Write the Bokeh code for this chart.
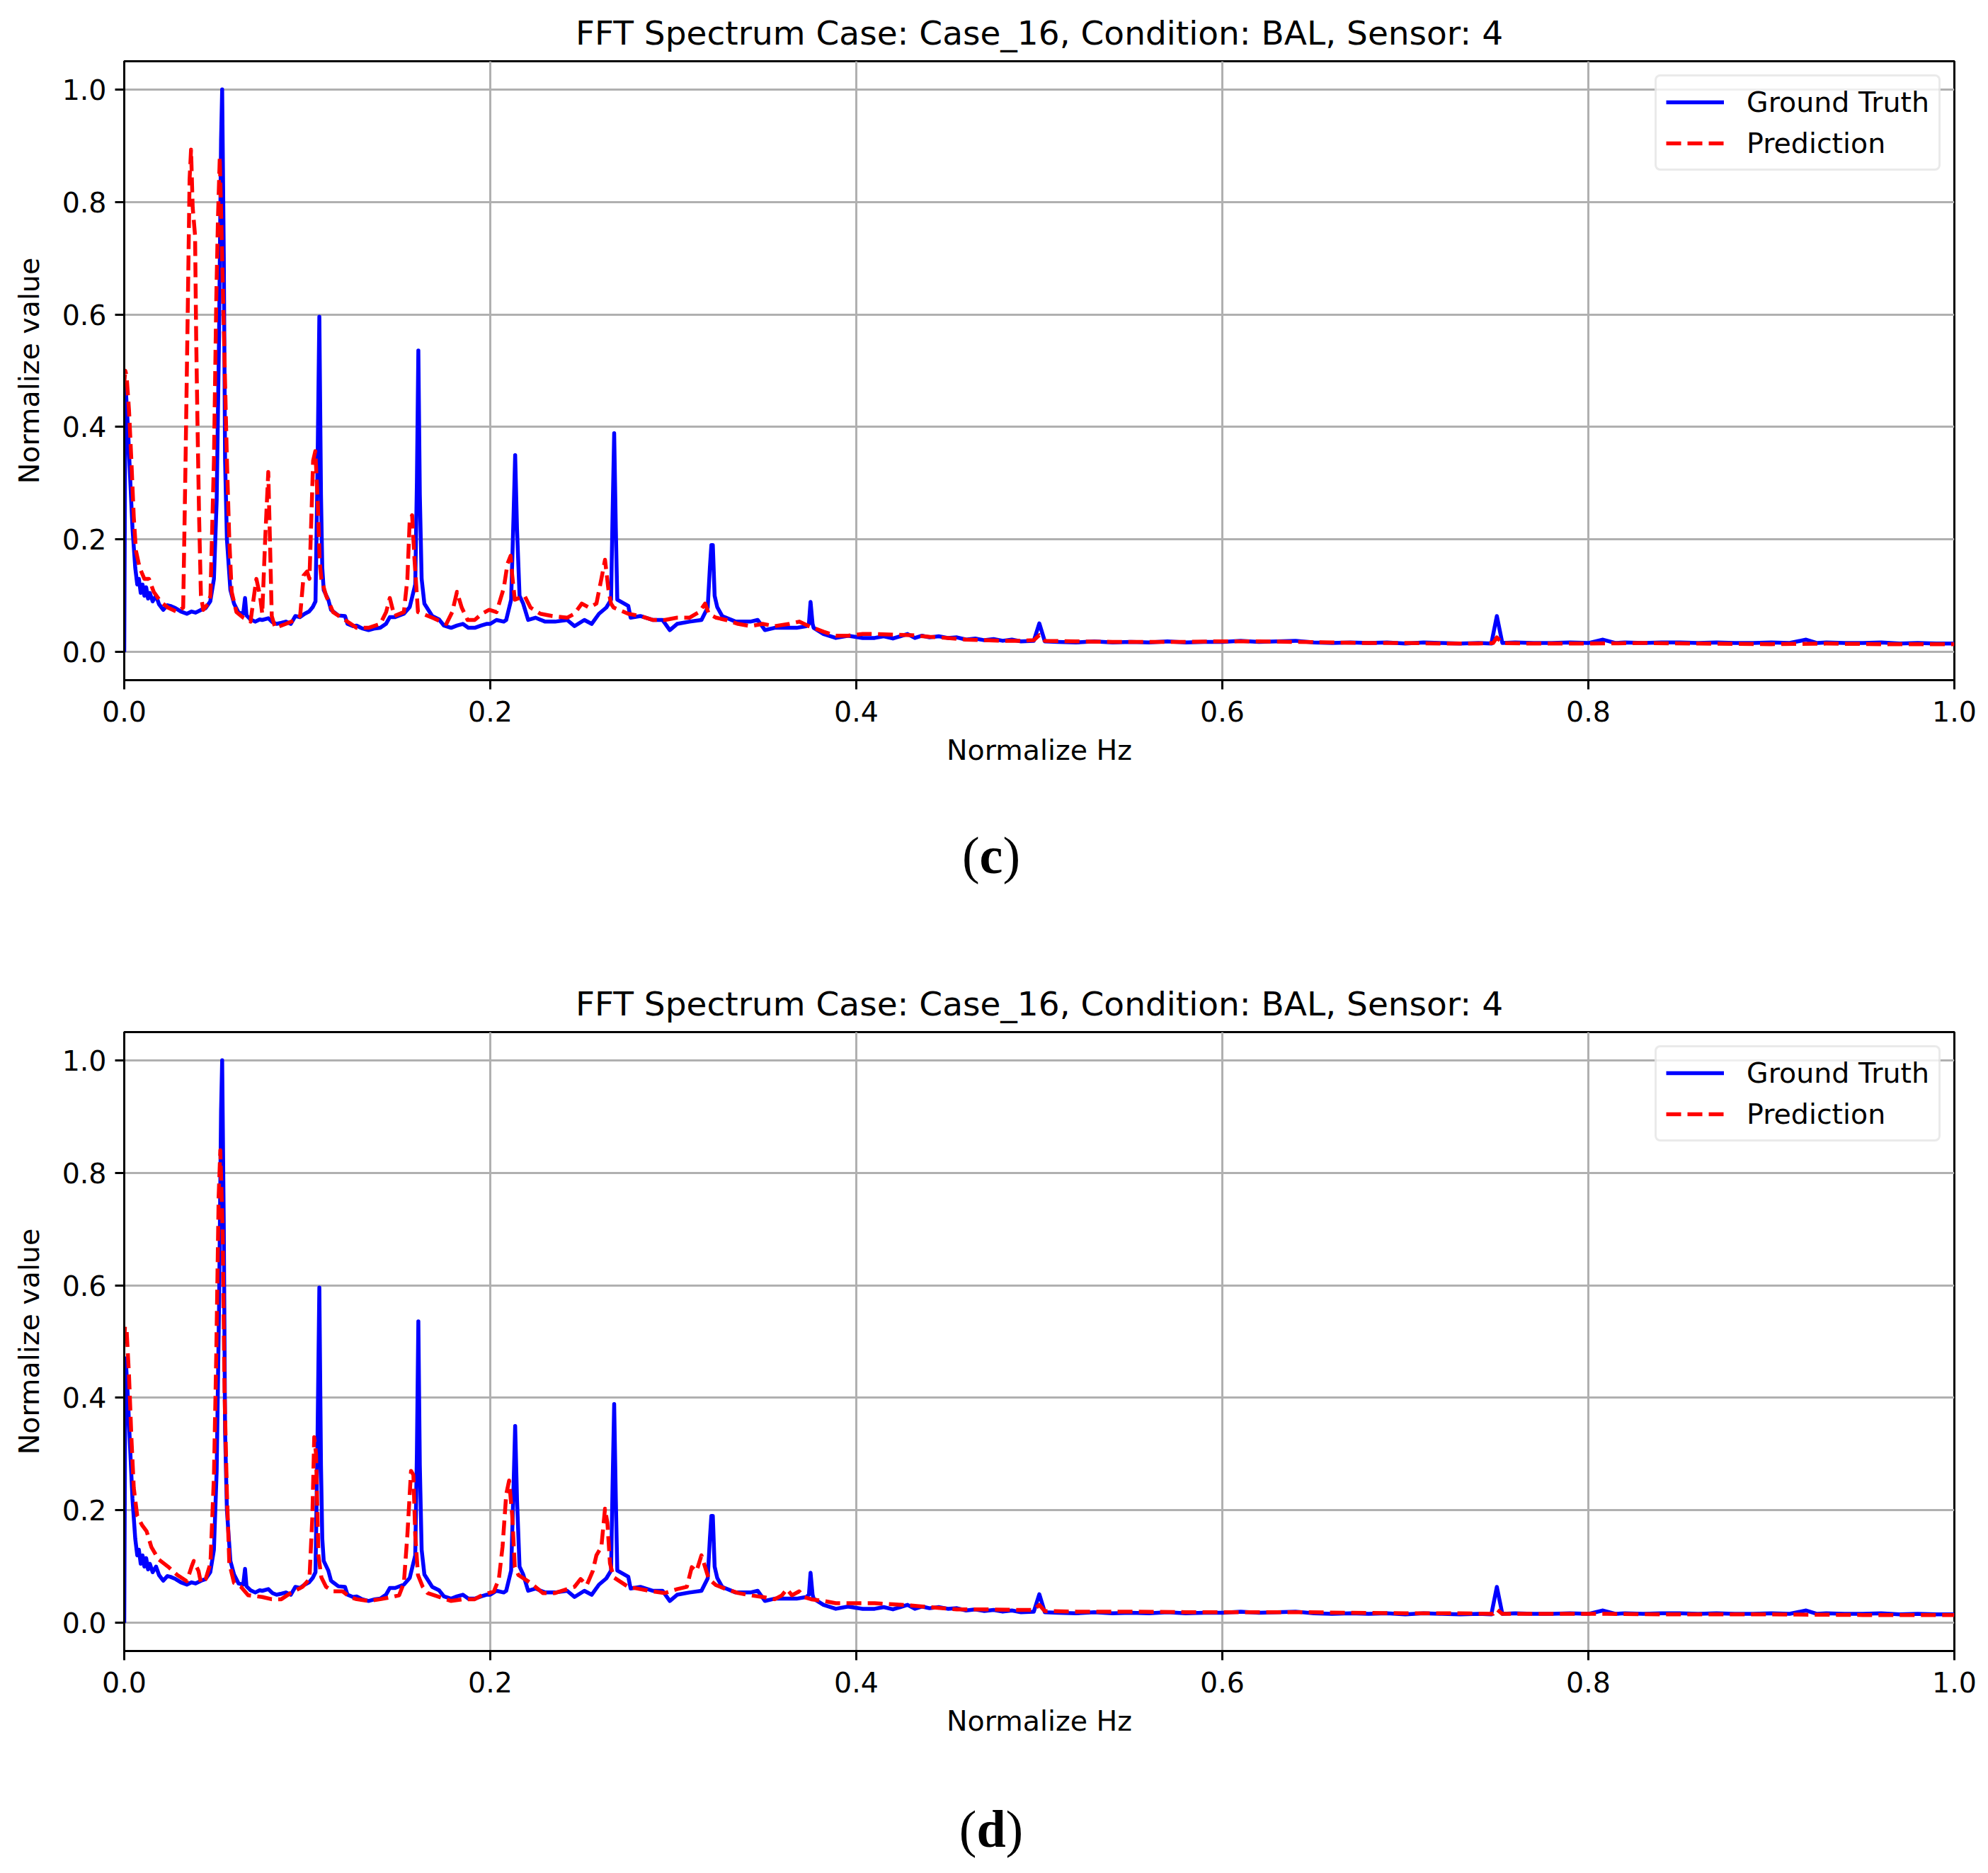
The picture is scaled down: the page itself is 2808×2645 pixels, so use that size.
from bokeh.plotting import figure
from bokeh.models import Range1d, FixedTicker, Legend, LegendItem, PrintfTickFormatter, Div
from bokeh.layouts import column
from bokeh.embed import file_html
from bokeh.resources import INLINE

# ---------------- data ----------------
title_text = "FFT Spectrum Case: Case_16, Condition: BAL, Sensor: 4"
x_label = "Normalize Hz"
y_label = "Normalize value"
x_ticks = [0.0, 0.2, 0.4, 0.6, 0.8, 1.0]
y_ticks = [0.0, 0.2, 0.4, 0.6, 0.8, 1.0]
series_names = ["Ground Truth", "Prediction"]
caption_letters = ["c", "d"]

# Ground truth spectrum (identical in both panels)
ground_truth = [
    (0.0000, 0.000), (0.0004, 0.300), (0.0008, 0.470), (0.0020, 0.400), (0.0035, 0.290),
    (0.0045, 0.220), (0.0060, 0.150), (0.0071, 0.120), (0.0080, 0.130), (0.0090, 0.105),
    (0.0100, 0.120), (0.0110, 0.100), (0.0120, 0.115), (0.0130, 0.095), (0.0140, 0.105),
    (0.0155, 0.090), (0.0174, 0.100), (0.0190, 0.085), (0.0213, 0.075), (0.0235, 0.083),
    (0.0251, 0.082), (0.0280, 0.078), (0.0310, 0.072), (0.0342, 0.068), (0.0368, 0.072),
    (0.0390, 0.070), (0.0420, 0.075), (0.0445, 0.078), (0.0470, 0.090), (0.0490, 0.130),
    (0.0505, 0.270), (0.0518, 0.560), (0.0529, 0.910), (0.0535, 1.000), (0.0544, 0.700),
    (0.0551, 0.340), (0.0561, 0.200), (0.0580, 0.110), (0.0600, 0.086), (0.0625, 0.070),
    (0.0650, 0.068), (0.0660, 0.096), (0.0668, 0.065), (0.0690, 0.058), (0.0716, 0.054),
    (0.0740, 0.058), (0.0754, 0.057), (0.0787, 0.060), (0.0810, 0.053), (0.0832, 0.050),
    (0.0860, 0.052), (0.0883, 0.054), (0.0910, 0.050), (0.0935, 0.064), (0.0960, 0.062),
    (0.0986, 0.068), (0.1010, 0.072), (0.1030, 0.080), (0.1045, 0.090), (0.1055, 0.300),
    (0.1066, 0.596), (0.1075, 0.280), (0.1082, 0.150), (0.1090, 0.110),
    (0.1115, 0.093), (0.1130, 0.075), (0.1141, 0.072), (0.1170, 0.065), (0.1206, 0.064),
    (0.1220, 0.050), (0.1250, 0.046), (0.1270, 0.047), (0.1300, 0.042), (0.1335, 0.039),
    (0.1370, 0.042), (0.1399, 0.043), (0.1430, 0.050), (0.1451, 0.062), (0.1480, 0.062),
    (0.1528, 0.068), (0.1560, 0.080), (0.1590, 0.120), (0.1599, 0.300), (0.1607, 0.536),
    (0.1615, 0.280), (0.1625, 0.130), (0.1640, 0.086), (0.1683, 0.064), (0.1720, 0.058),
    (0.1747, 0.047), (0.1786, 0.043), (0.1818, 0.047), (0.1850, 0.050), (0.1880, 0.043),
    (0.1915, 0.043), (0.1950, 0.047), (0.1979, 0.050), (0.2000, 0.050), (0.2034, 0.057),
    (0.2074, 0.054), (0.2087, 0.057), (0.2114, 0.093), (0.2127, 0.240), (0.2136, 0.350),
    (0.2146, 0.220), (0.2160, 0.100), (0.2180, 0.086), (0.2207, 0.057), (0.2247, 0.061),
    (0.2300, 0.054), (0.2354, 0.054), (0.2420, 0.057), (0.2460, 0.046), (0.2514, 0.057),
    (0.2554, 0.050), (0.2594, 0.068), (0.2634, 0.079), (0.2660, 0.093), (0.2668, 0.240),
    (0.2677, 0.389), (0.2686, 0.220), (0.2694, 0.093), (0.2754, 0.082), (0.2767, 0.061),
    (0.2820, 0.064), (0.2887, 0.057), (0.2941, 0.057), (0.2981, 0.039), (0.3021, 0.050),
    (0.3088, 0.054), (0.3154, 0.057), (0.3188, 0.079), (0.3200, 0.150), (0.3208, 0.190),
    (0.3216, 0.190), (0.3226, 0.100), (0.3240, 0.080), (0.3267, 0.064), (0.3341, 0.054),
    (0.3421, 0.054), (0.3461, 0.057), (0.3501, 0.039), (0.3554, 0.043), (0.3621, 0.043),
    (0.3674, 0.043), (0.3727, 0.046), (0.3741, 0.050), (0.3750, 0.089), (0.3761, 0.050),
    (0.3767, 0.043), (0.3821, 0.032), (0.3888, 0.025), (0.3955, 0.029), (0.4035, 0.025),
    (0.4100, 0.025), (0.4150, 0.028), (0.4200, 0.024), (0.4280, 0.032), (0.4320, 0.025),
    (0.4360, 0.029), (0.4400, 0.026), (0.4450, 0.028), (0.4500, 0.025), (0.4550, 0.026),
    (0.4600, 0.022), (0.4650, 0.024), (0.4700, 0.021), (0.4750, 0.023), (0.4800, 0.020),
    (0.4850, 0.022), (0.4900, 0.019), (0.4970, 0.020),
    (0.5000, 0.051), (0.5030, 0.019), (0.5100, 0.018), (0.5200, 0.017), (0.5300, 0.019),
    (0.5400, 0.017), (0.5500, 0.018), (0.5600, 0.017), (0.5700, 0.019), (0.5800, 0.017),
    (0.5900, 0.018), (0.6000, 0.018), (0.6100, 0.020), (0.6200, 0.018), (0.6300, 0.019),
    (0.6400, 0.020), (0.6500, 0.017), (0.6600, 0.016), (0.6700, 0.017), (0.6800, 0.016),
    (0.6900, 0.017), (0.7000, 0.015), (0.7100, 0.017), (0.7200, 0.016), (0.7300, 0.015),
    (0.7400, 0.016), (0.7470, 0.015), (0.7500, 0.064), (0.7530, 0.016), (0.7600, 0.017),
    (0.7700, 0.016), (0.7800, 0.016), (0.7900, 0.017), (0.8000, 0.016), (0.8080, 0.022),
    (0.8150, 0.016), (0.8200, 0.017), (0.8300, 0.016), (0.8400, 0.017), (0.8500, 0.017),
    (0.8600, 0.016), (0.8700, 0.017), (0.8800, 0.016), (0.8900, 0.016), (0.9000, 0.017),
    (0.9100, 0.016), (0.9190, 0.022), (0.9250, 0.016), (0.9300, 0.017), (0.9400, 0.016),
    (0.9500, 0.016), (0.9600, 0.017), (0.9700, 0.015), (0.9800, 0.016), (0.9900, 0.015),
    (1.0000, 0.015),
]

# Prediction, panel (c)
prediction_c = [
    (0.0000, 0.480), (0.0006, 0.500), (0.0013, 0.490), (0.0026, 0.430), (0.0039, 0.340),
    (0.0052, 0.240), (0.0064, 0.180), (0.0084, 0.150), (0.0110, 0.130), (0.0135, 0.130),
    (0.0161, 0.107), (0.0200, 0.089), (0.0239, 0.079), (0.0290, 0.071), (0.0322, 0.079),
    (0.0335, 0.340), (0.0348, 0.630), (0.0357, 0.840), (0.0365, 0.893), (0.0374, 0.790),
    (0.0387, 0.740), (0.0393, 0.560), (0.0400, 0.410), (0.0409, 0.240), (0.0419, 0.100),
    (0.0432, 0.075), (0.0458, 0.086), (0.0471, 0.100), (0.0490, 0.340), (0.0503, 0.630),
    (0.0512, 0.770), (0.0522, 0.880), (0.0535, 0.700), (0.0548, 0.520), (0.0561, 0.340),
    (0.0574, 0.200), (0.0587, 0.107), (0.0613, 0.071), (0.0651, 0.061), (0.0690, 0.054),
    (0.0709, 0.100), (0.0722, 0.130), (0.0742, 0.100), (0.0754, 0.068), (0.0770, 0.200),
    (0.0787, 0.320), (0.0796, 0.200), (0.0806, 0.064), (0.0825, 0.043), (0.0883, 0.050),
    (0.0935, 0.057), (0.0961, 0.064), (0.0980, 0.136), (0.0999, 0.143), (0.1012, 0.130),
    (0.1032, 0.340), (0.1044, 0.357), (0.1057, 0.270), (0.1068, 0.160), (0.1077, 0.130),
    (0.1103, 0.100), (0.1141, 0.071), (0.1206, 0.057), (0.1270, 0.043), (0.1335, 0.043),
    (0.1399, 0.050), (0.1431, 0.071), (0.1451, 0.096), (0.1476, 0.064), (0.1528, 0.071),
    (0.1547, 0.130), (0.1560, 0.236), (0.1573, 0.243), (0.1586, 0.164), (0.1605, 0.071),
    (0.1631, 0.068), (0.1683, 0.061), (0.1760, 0.050), (0.1792, 0.071), (0.1818, 0.107),
    (0.1844, 0.079), (0.1876, 0.057), (0.1915, 0.057), (0.1954, 0.068), (0.1994, 0.075),
    (0.2034, 0.071), (0.2074, 0.114), (0.2094, 0.157), (0.2111, 0.171), (0.2120, 0.136),
    (0.2134, 0.093), (0.2187, 0.100), (0.2220, 0.079), (0.2274, 0.068), (0.2340, 0.064),
    (0.2420, 0.061), (0.2460, 0.068), (0.2500, 0.086), (0.2540, 0.079), (0.2580, 0.086),
    (0.2607, 0.130), (0.2627, 0.164), (0.2647, 0.107), (0.2660, 0.086), (0.2674, 0.079),
    (0.2754, 0.068), (0.2820, 0.064), (0.2887, 0.057), (0.2954, 0.057), (0.3021, 0.061),
    (0.3088, 0.061), (0.3141, 0.071), (0.3174, 0.086), (0.3194, 0.068), (0.3234, 0.061),
    (0.3288, 0.057), (0.3354, 0.050), (0.3421, 0.046), (0.3488, 0.050), (0.3554, 0.046),
    (0.3634, 0.050), (0.3688, 0.054), (0.3741, 0.046), (0.3767, 0.043), (0.3821, 0.036),
    (0.3888, 0.029), (0.3955, 0.029), (0.4035, 0.032), (0.4100, 0.032), (0.4200, 0.031),
    (0.4300, 0.030), (0.4400, 0.027), (0.4500, 0.025), (0.4600, 0.022), (0.4700, 0.021),
    (0.4800, 0.020), (0.4900, 0.020), (0.4970, 0.021), (0.5000, 0.030), (0.5030, 0.020),
    (0.5200, 0.019), (0.5400, 0.018), (0.5600, 0.018), (0.5800, 0.018), (0.6000, 0.019),
    (0.6200, 0.019), (0.6400, 0.018), (0.6600, 0.017), (0.6800, 0.016), (0.7000, 0.016),
    (0.7200, 0.015), (0.7400, 0.015), (0.7480, 0.016), (0.7500, 0.026), (0.7530, 0.016),
    (0.7700, 0.015), (0.8000, 0.015), (0.8300, 0.016), (0.8600, 0.015), (0.9000, 0.014),
    (0.9300, 0.015), (0.9600, 0.014), (1.0000, 0.014),
]

# Prediction, panel (d)
prediction_d = [
    (0.0000, 0.500), (0.0004, 0.527), (0.0013, 0.520), (0.0026, 0.440), (0.0039, 0.330),
    (0.0052, 0.240), (0.0071, 0.190), (0.0097, 0.174), (0.0122, 0.163), (0.0148, 0.135),
    (0.0187, 0.113), (0.0239, 0.100), (0.0290, 0.085), (0.0342, 0.074), (0.0368, 0.100),
    (0.0380, 0.110), (0.0406, 0.092), (0.0419, 0.071), (0.0445, 0.078), (0.0471, 0.106),
    (0.0490, 0.260), (0.0503, 0.480), (0.0516, 0.760), (0.0525, 0.840), (0.0538, 0.690),
    (0.0548, 0.410), (0.0561, 0.230), (0.0574, 0.106), (0.0600, 0.071), (0.0638, 0.064),
    (0.0677, 0.049), (0.0754, 0.046), (0.0806, 0.042), (0.0858, 0.042), (0.0909, 0.053),
    (0.0974, 0.064), (0.1012, 0.078), (0.1028, 0.190), (0.1038, 0.330), (0.1048, 0.300),
    (0.1061, 0.120), (0.1077, 0.081), (0.1103, 0.064), (0.1141, 0.056), (0.1193, 0.056),
    (0.1232, 0.046), (0.1270, 0.042), (0.1335, 0.039), (0.1399, 0.042), (0.1464, 0.046),
    (0.1502, 0.049), (0.1528, 0.071), (0.1547, 0.156), (0.1567, 0.270), (0.1580, 0.263),
    (0.1590, 0.156), (0.1605, 0.085), (0.1631, 0.064), (0.1657, 0.053), (0.1721, 0.046),
    (0.1786, 0.039), (0.1850, 0.042), (0.1915, 0.042), (0.1954, 0.049), (0.2020, 0.056),
    (0.2047, 0.078), (0.2067, 0.135), (0.2087, 0.228), (0.2103, 0.253), (0.2120, 0.190),
    (0.2134, 0.099), (0.2154, 0.085), (0.2220, 0.071), (0.2287, 0.053), (0.2354, 0.053),
    (0.2420, 0.060), (0.2460, 0.064), (0.2494, 0.078), (0.2527, 0.067), (0.2560, 0.092),
    (0.2580, 0.120), (0.2607, 0.135), (0.2627, 0.203), (0.2640, 0.178), (0.2654, 0.106),
    (0.2674, 0.081), (0.2754, 0.064), (0.2820, 0.060), (0.2887, 0.056), (0.2954, 0.053),
    (0.3021, 0.060), (0.3074, 0.064), (0.3101, 0.099), (0.3127, 0.092), (0.3154, 0.120),
    (0.3174, 0.099), (0.3194, 0.078), (0.3234, 0.067), (0.3288, 0.060), (0.3354, 0.053),
    (0.3421, 0.049), (0.3488, 0.046), (0.3554, 0.042), (0.3594, 0.049), (0.3621, 0.060),
    (0.3648, 0.049), (0.3688, 0.056), (0.3714, 0.046), (0.3754, 0.042), (0.3821, 0.039),
    (0.3888, 0.035), (0.3955, 0.035), (0.4035, 0.035), (0.4100, 0.035), (0.4200, 0.033),
    (0.4300, 0.031), (0.4400, 0.028), (0.4550, 0.024), (0.4700, 0.024), (0.4900, 0.023),
    (0.4970, 0.023), (0.5000, 0.032), (0.5030, 0.021), (0.5200, 0.020), (0.5500, 0.020),
    (0.5800, 0.019), (0.6100, 0.019), (0.6400, 0.019), (0.6700, 0.018), (0.7000, 0.017),
    (0.7300, 0.017), (0.7480, 0.016), (0.7500, 0.024), (0.7530, 0.016), (0.7800, 0.016),
    (0.8100, 0.016), (0.8500, 0.015), (0.9000, 0.015), (0.9500, 0.014), (1.0000, 0.014),
]

# ---------------- styling ----------------
FONT = "DejaVu Sans"
LW = 5.5
FS = "39.5px"
PAGE_W = 2800


def build(pred, top_border, bottom_border):
    p = figure(frame_width=2585, frame_height=874,
               min_border_left=175, min_border_right=40,
               min_border_top=top_border, min_border_bottom=bottom_border,
               x_range=Range1d(0.0, 1.0), y_range=Range1d(-0.05, 1.05),
               output_backend="svg", toolbar_location=None,
               background_fill_color="white", border_fill_color="white")
    p.title.text = title_text
    p.title.align = "center"
    p.title.text_font = FONT
    p.title.text_font_size = "47px"
    p.title.text_font_style = "normal"
    p.title.text_color = "black"
    p.title.standoff = 26

    p.outline_line_color = "black"
    p.outline_line_width = 3
    p.outline_line_alpha = 1.0

    for ax, ticks, lab in ((p.xaxis, x_ticks, x_label), (p.yaxis, y_ticks, y_label)):
        ax.ticker = FixedTicker(ticks=ticks)
        ax.formatter = PrintfTickFormatter(format="%.1f")
        ax.minor_tick_line_color = None
        ax.major_tick_out = 13
        ax.major_tick_in = 0
        ax.major_tick_line_width = 3
        ax.major_tick_line_color = "black"
        ax.axis_line_width = 3
        ax.axis_line_color = "black"
        ax.major_label_text_font = FONT
        ax.major_label_text_font_size = FS
        ax.major_label_text_color = "black"
        ax.axis_label = lab
        ax.axis_label_text_font = FONT
        ax.axis_label_text_font_size = FS
        ax.axis_label_text_font_style = "normal"
        ax.axis_label_text_color = "black"
    p.xaxis.major_label_standoff = 16
    p.xaxis.axis_label_standoff = 14
    p.yaxis.major_label_standoff = 12
    p.yaxis.axis_label_standoff = 21

    p.xgrid.ticker = FixedTicker(ticks=x_ticks)
    p.ygrid.ticker = FixedTicker(ticks=y_ticks)
    for g in (p.xgrid, p.ygrid):
        g.grid_line_color = "#b0b0b0"
        g.grid_line_width = 3

    gx = [a for a, b in ground_truth]
    gy = [b for a, b in ground_truth]
    px = [a for a, b in pred]
    py = [b for a, b in pred]
    r1 = p.line(gx, gy, line_color="#0000ff", line_width=LW, line_join="round")
    r2 = p.line(px, py, line_color="#ff0000", line_width=LW, line_dash="21 9",
                line_join="round")

    leg_kw = dict(items=[LegendItem(label=series_names[0], renderers=[r1]),
                         LegendItem(label=series_names[1], renderers=[r2])],
                  location="top_right", margin=19, padding=13, spacing=12,
                  glyph_width=82, glyph_height=46, label_height=46, label_standoff=32,
                  label_text_font=FONT, label_text_font_size=FS,
                  label_text_color="black",
                  border_line_color="#d6d6d6", border_line_width=3,
                  background_fill_color="white", background_fill_alpha=0.8)
    if "border_radius" in Legend.properties():
        leg_kw["border_radius"] = 8
    p.add_layout(Legend(**leg_kw))
    return p


def caption(letter, height, pad_top):
    html = ('<div style="width:%dpx;text-align:center;font-family:\'Liberation Serif\','
            '\'Times New Roman\',serif;font-size:74px;line-height:1;color:black;'
            'padding-top:%dpx;">(<b>%s</b>)</div>') % (PAGE_W, pad_top, letter)
    return Div(text=html, width=PAGE_W, height=height, margin=0)


# top panel: frame 86..960 ; caption centred at y~1220
p1 = build(prediction_c, 86, 160)          # height 1120
cap1 = caption(caption_letters[0], 180, 51)  # 1120..1300
# bottom panel: frame 1457..2331 ; caption centred at y~2596
p2 = build(prediction_d, 157, 160)         # 1300..2491
cap2 = caption(caption_letters[1], 150, 55)  # 2491..2641

layout = column(p1, cap1, p2, cap2, spacing=0)

open("out.html", "w").write(file_html(layout, INLINE))
